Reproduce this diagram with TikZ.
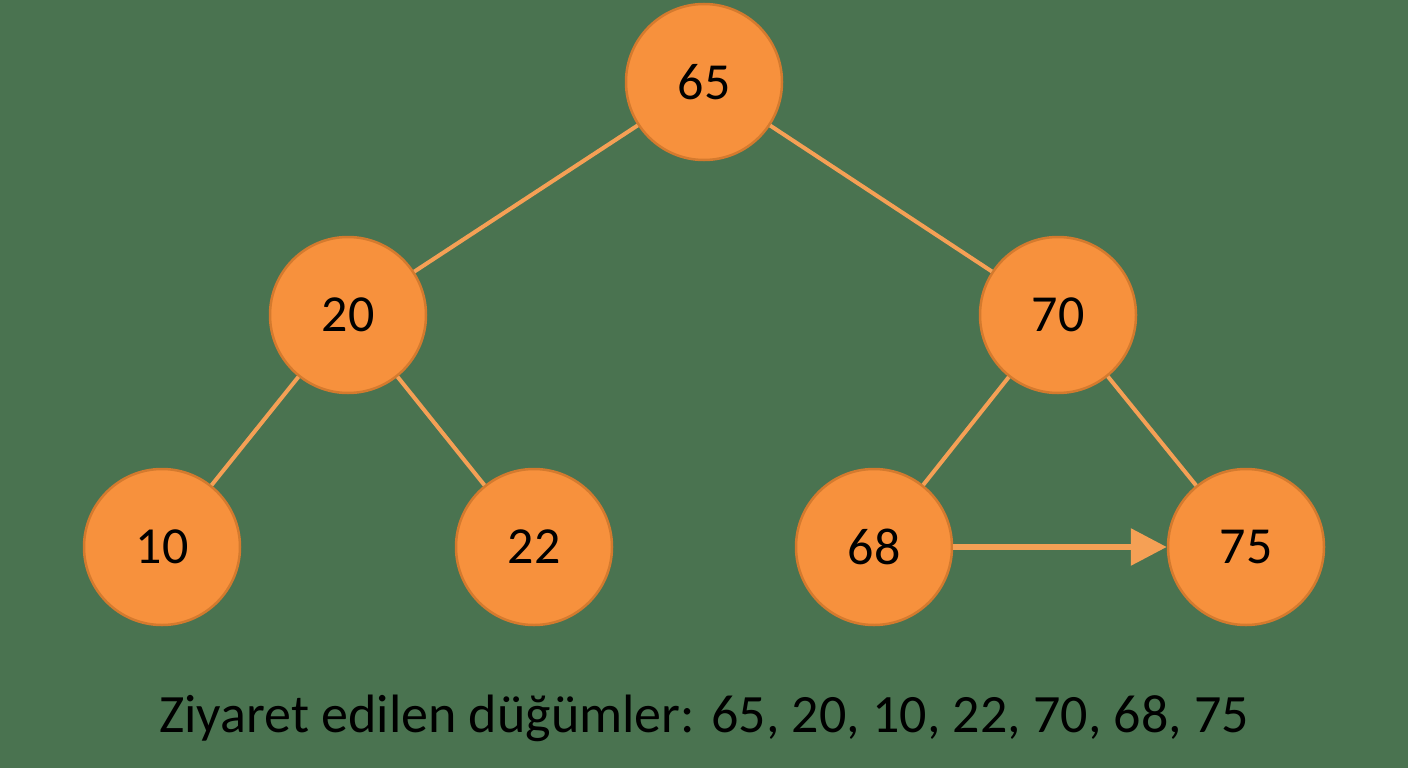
\documentclass[tikz,border=0pt]{standalone}
\usepackage{fontspec}
\setmainfont{Carlito}
\usetikzlibrary{arrows.meta}
\definecolor{bg}{HTML}{4A7350}
\definecolor{nodefill}{HTML}{F7913D}
\definecolor{nodeedge}{HTML}{D47A2E}
\definecolor{edgecol}{HTML}{F5A055}
\tikzset{
  tn/.style={circle,fill=nodefill,draw=nodeedge,line width=2.5pt,minimum size=156pt,inner sep=0pt,font=\fontsize{52}{60}\selectfont},
  tedge/.style={draw=edgecol,line width=4pt},
  tarrow/.style={draw=edgecol,line width=6pt,-{Triangle[length=36pt,width=36pt]}}
}
\begin{document}
\begin{tikzpicture}[x=1pt,y=-1pt]
\fill[bg] (0,0) rectangle (1408,768);
\useasboundingbox (0,0) rectangle (1408,768);
\node[tn] (n65) at (704,82) {65};
\node[tn] (n20) at (348,315) {20};
\node[tn] (n70) at (1058,315) {70};
\node[tn] (n10) at (162,547) {10};
\node[tn] (n22) at (534,547) {22};
\node[tn] (n68) at (874,547) {68};
\node[tn] (n75) at (1246,547) {75};
\draw[tedge] (n65) -- (n20);
\draw[tedge] (n65) -- (n70);
\draw[tedge] (n20) -- (n10);
\draw[tedge] (n20) -- (n22);
\draw[tedge] (n70) -- (n68);
\draw[tedge] (n70) -- (n75);
\draw[tarrow] (n68) -- (n75);
\node[font=\fontsize{54}{62}\selectfont,text=black] (cap) at (704,718) {Ziyaret edilen düğümler: 65, 20, 10, 22, 70, 68, 75};
\end{tikzpicture}
\end{document}
